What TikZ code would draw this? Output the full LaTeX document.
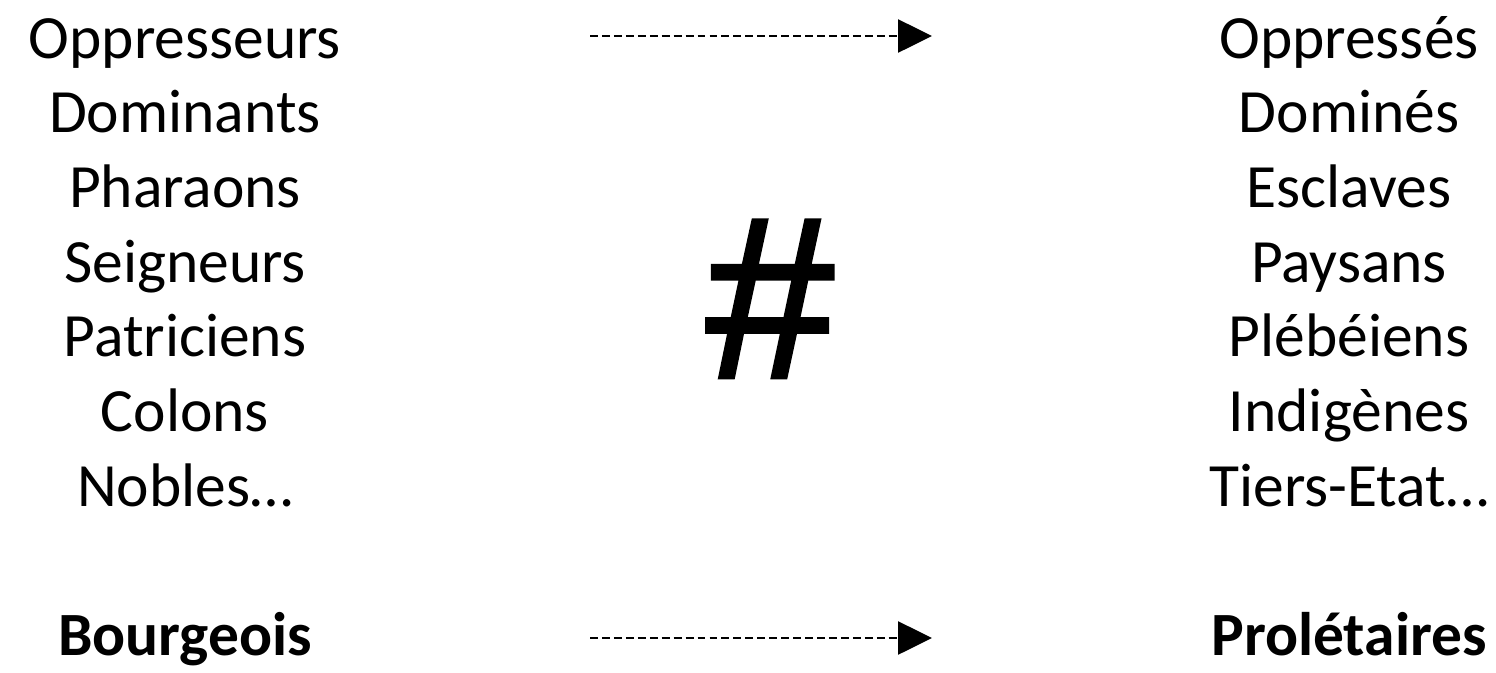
\documentclass[tikz,border=0pt]{standalone}
\usepackage{fontspec}
\setmainfont{Carlito}
\newfontfamily\hashfont[FakeBold=2]{Liberation Sans}
\usetikzlibrary{arrows.meta}

\begin{document}
\begin{tikzpicture}[
  word/.style={anchor=base,inner sep=0pt,font=\fontsize{35}{42}\selectfont},
  flow/.style={-{Triangle[length=6.8mm,width=6.6mm]},line width=1.5pt,dash pattern=on 4.5pt off 2.3pt}
]
  \useasboundingbox (0,0) rectangle (29.92,-13.44);
  % oppressors
  \node[word] (opp) at (3.7,-1.16) {Oppresseurs};
  \node[word] (dom) at (3.7,-2.654) {Dominants};
  \node[word] (pha) at (3.7,-4.148) {Pharaons};
  \node[word] (sei) at (3.7,-5.642) {Seigneurs};
  \node[word] (pat) at (3.7,-7.136) {Patriciens};
  \node[word] (col) at (3.7,-8.63) {Colons};
  \node[word] (nob) at (3.7,-10.124) {Nobles…};
  \node[word,font=\fontsize{35}{42}\selectfont\bfseries] (bou) at (3.7,-13.1) {Bourgeois};
  % oppressed
  \node[word] (ops) at (26.98,-1.16) {Oppressés};
  \node[word] (dms) at (26.98,-2.654) {Dominés};
  \node[word] (esc) at (26.98,-4.148) {Esclaves};
  \node[word] (pay) at (26.98,-5.642) {Paysans};
  \node[word] (ple) at (26.98,-7.136) {Plébéiens};
  \node[word] (ind) at (26.98,-8.63) {Indigènes};
  \node[word] (tie) at (26.98,-10.124) {Tiers-Etat…};
  \node[word,font=\fontsize{35}{42}\selectfont\bfseries] (pro) at (26.98,-13.1) {Prolétaires};
  % middle
  \node[anchor=base,inner sep=0pt,font=\hashfont\fontsize{130}{135}\selectfont] (hash) at (15.4,-7.54) {\#};
  \coordinate (topa) at (11.8,-0.72);
  \coordinate (topb) at (18.64,-0.72);
  \coordinate (bota) at (11.8,-12.76);
  \coordinate (botb) at (18.64,-12.76);
  \draw[flow] (topa) -- (topb);
  \draw[flow] (bota) -- (botb);
\end{tikzpicture}
\end{document}
